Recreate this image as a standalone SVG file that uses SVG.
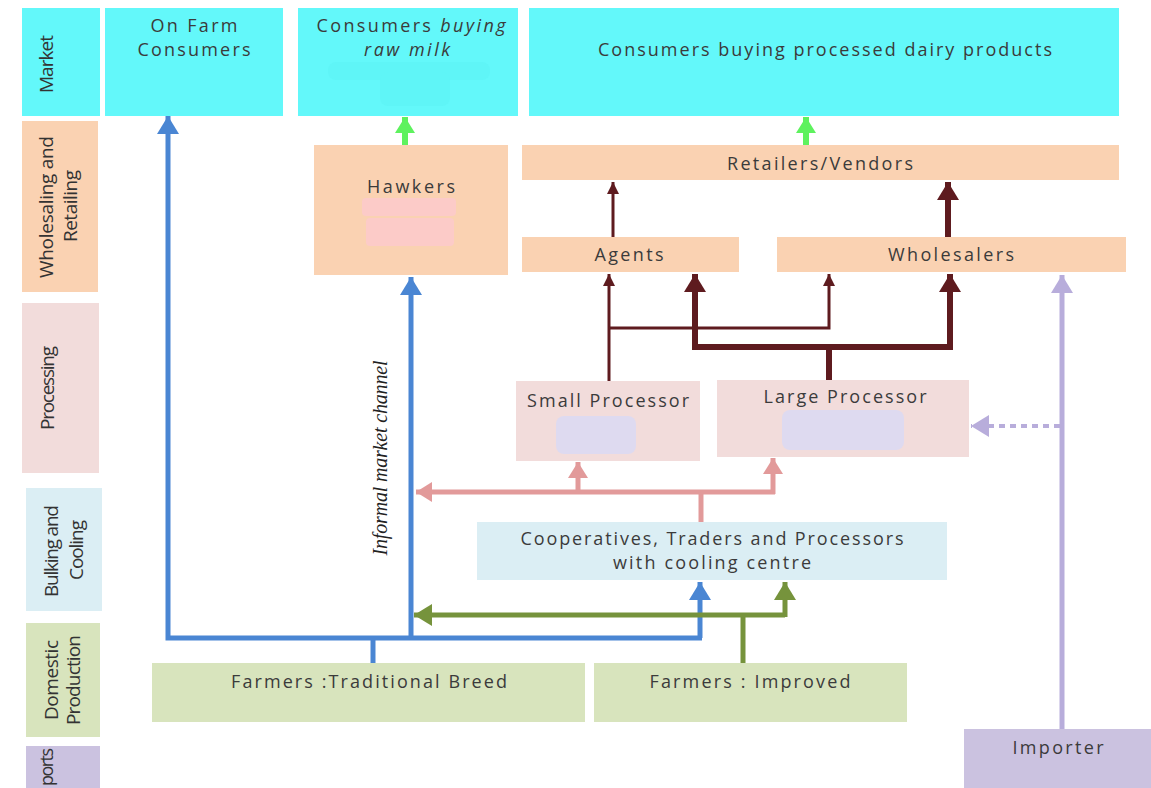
<svg xmlns="http://www.w3.org/2000/svg" width="1151" height="788" viewBox="0 0 1151 788">
<style>
.t{font-family:"Open Sans","Noto Sans",sans-serif;font-size:18px;fill:#3b3b3b;text-anchor:middle}
.lab{font-family:"Open Sans","Noto Sans",sans-serif;font-size:19px;fill:#333;text-anchor:middle;dominant-baseline:central}
.it{font-style:italic}
.mk{fill:#63f8fa}
.ws{fill:#fad2b2}
.pr{fill:#f2dcdb}
.bk{fill:#dbeef4}
.dp{fill:#d8e4bd}
.im{fill:#cbc2e0}
.c{fill:none;stroke-linejoin:miter}
.blue{stroke:#4a86d3;stroke-width:5}
.grn{stroke:#76933c;stroke-width:5}
.pink{stroke:#e29a9a;stroke-width:5}
.lime{stroke:#5ef25e;stroke-width:6}
.red1{stroke:#5e1b1f;stroke-width:3}
.red2{stroke:#5e1b1f;stroke-width:6}
.pur{stroke:#b8addb;stroke-width:5}
</style>
<defs>
<marker id="aBlue" viewBox="0 0 18 22" refX="18" refY="11" markerWidth="18" markerHeight="22" markerUnits="userSpaceOnUse" orient="auto"><path d="M0,0 L18,11 L0,22 z" fill="#4a86d3"/></marker>
<marker id="aGrn" viewBox="0 0 18 22" refX="18" refY="11" markerWidth="18" markerHeight="22" markerUnits="userSpaceOnUse" orient="auto"><path d="M0,0 L18,11 L0,22 z" fill="#76933c"/></marker>
<marker id="aPink" viewBox="0 0 16 20" refX="16" refY="10" markerWidth="16" markerHeight="20" markerUnits="userSpaceOnUse" orient="auto"><path d="M0,0 L16,10 L0,20 z" fill="#e29a9a"/></marker>
<marker id="aLime" viewBox="0 0 16 20" refX="16" refY="10" markerWidth="16" markerHeight="20" markerUnits="userSpaceOnUse" orient="auto"><path d="M0,0 L16,10 L0,20 z" fill="#5ef25e"/></marker>
<marker id="aRed1" viewBox="0 0 12 12" refX="12" refY="6" markerWidth="12" markerHeight="12" markerUnits="userSpaceOnUse" orient="auto"><path d="M0,0 L12,6 L0,12 z" fill="#5e1b1f"/></marker>
<marker id="aRed2" viewBox="0 0 18 22" refX="18" refY="11" markerWidth="18" markerHeight="22" markerUnits="userSpaceOnUse" orient="auto"><path d="M0,0 L18,11 L0,22 z" fill="#5e1b1f"/></marker>
<marker id="aPur" viewBox="0 0 18 22" refX="18" refY="11" markerWidth="18" markerHeight="22" markerUnits="userSpaceOnUse" orient="auto"><path d="M0,0 L18,11 L0,22 z" fill="#b8addb"/></marker>
</defs>
<rect width="1151" height="788" fill="#ffffff"/>

<!-- stage labels -->
<g id="stage-market"><rect class="mk" x="22" y="8" width="78" height="108"/><text class="lab" transform="translate(46,64) rotate(-90)" textLength="58">Market</text></g>
<g id="stage-wholesaling"><rect class="ws" x="22" y="121" width="76" height="171"/><text class="lab" transform="translate(46,207) rotate(-90)" textLength="142">Wholesaling and</text><text class="lab" transform="translate(70,206) rotate(-90)" textLength="72">Retailing</text></g>
<g id="stage-processing"><rect class="pr" x="22" y="303" width="77" height="170"/><text class="lab" transform="translate(47,388) rotate(-90)" textLength="84">Processing</text></g>
<g id="stage-bulking"><rect class="bk" x="26" y="488" width="76" height="123"/><text class="lab" transform="translate(51,551) rotate(-90)" textLength="92">Bulking and</text><text class="lab" transform="translate(76,550) rotate(-90)" textLength="60">Cooling</text></g>
<g id="stage-domestic"><rect class="dp" x="26" y="623" width="74" height="114"/><text class="lab" transform="translate(51,680) rotate(-90)" textLength="80">Domestic</text><text class="lab" transform="translate(73,680) rotate(-90)" textLength="90">Production</text></g>
<g id="stage-imports"><rect class="im" x="26" y="746" width="74" height="50"/><text class="lab" style="text-anchor:end;font-size:18px" transform="translate(46,748) rotate(-90)" textLength="38">ports</text></g>

<!-- nodes -->
<g id="on-farm-consumers"><rect class="mk" x="105" y="8" width="178" height="108"/><text class="t" x="194" y="32" textLength="87">On Farm</text><text class="t" x="194" y="56" textLength="113">Consumers</text></g>
<g id="consumers-raw-milk"><rect class="mk" x="298" y="8" width="220" height="108"/><rect x="328" y="62" width="162" height="18" fill="#5ff5f7" rx="8"/><rect x="380" y="72" width="70" height="34" fill="#5ff5f7" rx="8"/><text class="t" x="411" y="32" textLength="189">Consumers <tspan class="it">buying</tspan></text><text class="t it" x="407" y="56" textLength="86">raw milk</text></g>
<g id="consumers-processed"><rect class="mk" x="529" y="8" width="590" height="108"/><text class="t" x="825" y="56" textLength="454">Consumers buying processed dairy products</text></g>
<g id="hawkers"><rect class="ws" x="314" y="145" width="194" height="130"/><rect x="362" y="198" width="94" height="18" fill="#fccbc8" rx="4"/><rect x="366" y="218" width="88" height="28" fill="#fccbc8" rx="4"/><text class="t" x="411" y="193" textLength="88">Hawkers</text></g>
<g id="retailers"><rect class="ws" x="522" y="145" width="597" height="35"/><text class="t" x="820" y="170" textLength="186">Retailers/Vendors</text></g>
<g id="agents"><rect class="ws" x="522" y="237" width="217" height="35"/><text class="t" x="629" y="261" textLength="69">Agents</text></g>
<g id="wholesalers"><rect class="ws" x="777" y="237" width="349" height="35"/><text class="t" x="951" y="261" textLength="126">Wholesalers</text></g>
<g id="small-processor"><rect class="pr" x="516" y="381" width="184" height="80"/><rect x="556" y="416" width="80" height="38" fill="#dedaf0" rx="8"/><text class="t" x="608" y="407" textLength="162">Small Processor</text></g>
<g id="large-processor"><rect class="pr" x="717" y="380" width="252" height="77"/><rect x="782" y="410" width="122" height="40" fill="#dedaf0" rx="8"/><text class="t" x="845" y="403" textLength="163">Large Processor</text></g>
<g id="cooperatives"><rect class="bk" x="477" y="522" width="470" height="58"/><text class="t" x="712" y="545" textLength="383">Cooperatives, Traders and Processors</text><text class="t" x="712" y="569" textLength="198">with cooling centre</text></g>
<g id="farmers-traditional"><rect class="dp" x="152" y="663" width="433" height="59"/><text class="t" x="369" y="688" textLength="276">Farmers :Traditional Breed</text></g>
<g id="farmers-improved"><rect class="dp" x="594" y="663" width="313" height="59"/><text class="t" x="750" y="688" textLength="201">Farmers : Improved</text></g>
<g id="importer"><rect class="im" x="964" y="729" width="190" height="62"/><text class="t" x="1058" y="754" textLength="91">Importer</text></g>

<!-- connectors -->
<g id="connectors">
<path class="c blue" d="M373,663 V638"/>
<path class="c blue" d="M702,638 H168 V116" marker-end="url(#aBlue)"/>
<path class="c blue" d="M411,638 V277" marker-end="url(#aBlue)"/>
<path class="c blue" d="M700,638 V582" marker-end="url(#aBlue)"/>
<path class="c grn" d="M743,663 V615"/>
<path class="c grn" d="M785,615 H414" marker-end="url(#aGrn)"/>
<path class="c grn" d="M785,617 V582" marker-end="url(#aGrn)"/>
<path class="c pink" d="M701,522 V492"/>
<path class="c pink" d="M775,492 H416" marker-end="url(#aPink)"/>
<path class="c pink" d="M578,494 V462" marker-end="url(#aPink)"/>
<path class="c pink" d="M773,494 V458" marker-end="url(#aPink)"/>
<path class="c red1" d="M609,381 V274" marker-end="url(#aRed1)"/>
<path class="c red1" d="M609,328 H829 V274" marker-end="url(#aRed1)"/>
<path class="c red2" d="M829,380 V347"/>
<path class="c red2" d="M695,347 H950"/>
<path class="c red2" d="M695,350 V274" marker-end="url(#aRed2)"/>
<path class="c red2" d="M950,350 V274" marker-end="url(#aRed2)"/>
<path class="c red1" d="M613,237 V182" marker-end="url(#aRed1)"/>
<path class="c red2" d="M948,237 V182" marker-end="url(#aRed2)"/>
<path class="c lime" d="M405,145 V117" marker-end="url(#aLime)"/>
<path class="c lime" d="M806,145 V117" marker-end="url(#aLime)"/>
<path class="c pur" d="M1062,729 V275" marker-end="url(#aPur)"/>
<path class="c pur" d="M1060,426 H971" stroke-dasharray="6 5" style="stroke-width:4" marker-end="url(#aPur)"/>
</g>

<text font-family="Liberation Serif, serif" font-style="italic" font-size="20" fill="#222" text-anchor="middle" transform="translate(387,458) rotate(-90)" textLength="195">Informal market channel</text>
</svg>
